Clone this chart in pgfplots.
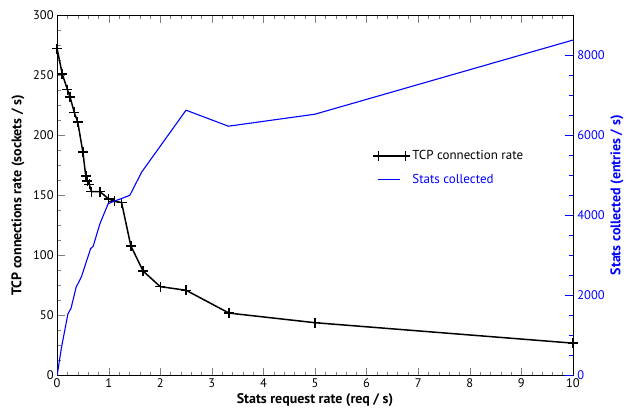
\documentclass[border=0pt]{standalone}
\usepackage{pgfplots}
\pgfplotsset{compat=1.18}
\usepackage{fontspec}
\setmainfont{PT Sans}

\pgfplotstableread{
x      y
0      272
0.1    251
0.2    238
0.25   232
0.333  219
0.4    211
0.5    186
0.556  166
0.588  162
0.625  159
0.667  153
0.833  153
1.0    147
1.111  145
1.25   144
1.429  108
1.667  87
2.0    74
2.5    71
3.333  52
5      44
10     27
}\tcprate

\pgfplotstableread{
x      y
0      0
0.085  700
0.21   1540
0.27   1680
0.37   2210
0.47   2460
0.65   3170
0.70   3230
0.83   3790
0.99   4290
1.12   4360
1.25   4420
1.41   4500
1.64   5080
2.5    6625
3.32   6225
5.0    6525
10     8375
}\stats

\begin{document}
\begin{tikzpicture}
\pgfplotsset{
  every axis/.append style={
    width=515bp, height=360bp, scale only axis,
    xmin=0, xmax=10,
    tick align=inside,
    major tick length=8bp, minor tick length=4bp,
    /pgf/number format/assume math mode=true,
    /pgf/number format/1000 sep={},
    tick label style={font=\fontsize{12.5}{14}\selectfont},
    label style={font=\bfseries\fontsize{14}{16}\selectfont},
  }
}
\begin{axis}[
  name=main,
  axis y line*=left,
  ymin=0, ymax=300,
  xtick={0,...,10}, minor x tick num=4,
  ytick={0,50,...,300}, minor y tick num=3,
  xlabel={Stats request rate (req / s)},
  ylabel={TCP connections rate (sockets / s)},
  xlabel style={at={(axis description cs:0.5,-0.069)}, anchor=center},
  ylabel style={at={(axis description cs:-0.0757,0.5)}, anchor=center},
]
\addplot[black, line width=1.5bp, mark=+, mark size=5bp] table {\tcprate};
\end{axis}
\begin{axis}[
  axis y line*=right, axis x line=none,
  ymin=0, ymax=9000,
  ytick={0,2000,...,8000}, minor y tick num=3,
  y tick style={blue},
  yticklabel style={blue, xshift=1bp},
  ylabel style={blue, at={(axis description cs:1.0854,0.5)}, anchor=center},
  ylabel={Stats collected (entries / s)},
  scaled y ticks=false,
  legend style={draw=none, fill=none, at={(0.607,0.636)}, anchor=north west,
    font=\fontsize{13}{15}\selectfont, row sep=9bp},
  legend cell align=left,
]
\addlegendimage{black, line width=1.5bp, mark=+, mark size=5bp,
  legend image code/.code={\draw plot coordinates {(0cm,0cm) (0.95cm,0cm)};}}
\addlegendentry{TCP connection rate}
\addplot[blue, line width=1.1bp,
  legend image code/.code={\draw (0cm,0cm) -- (0.75cm,0cm);}] table {\stats};
\addlegendentry[text=blue]{Stats collected}
\end{axis}
\path (main.south west) ++(-57bp,-36bp) rectangle ([shift={(63bp,15bp)}]main.north east);
\end{tikzpicture}
\end{document}
